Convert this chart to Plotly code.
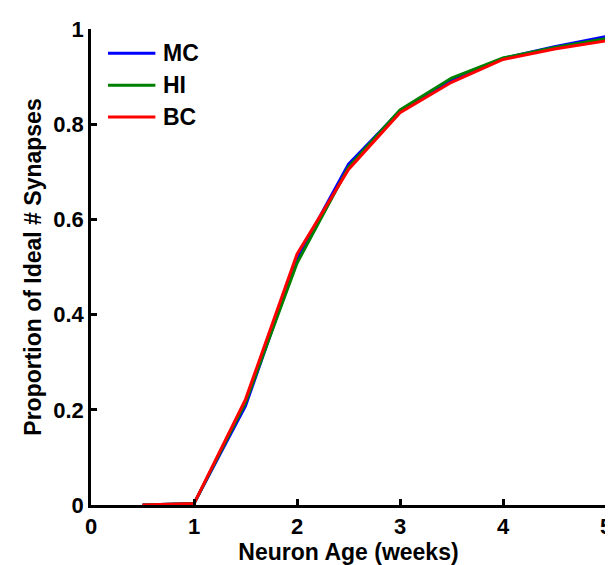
import plotly.graph_objects as go

weeks = [0.5, 1.0, 1.5, 2.0, 2.5, 3.0, 3.5, 4.0, 4.5, 5.0]
mc = [0.0, 0.003, 0.208, 0.518, 0.716, 0.828, 0.893, 0.938, 0.963, 0.984]
hi = [0.0, 0.003, 0.215, 0.508, 0.710, 0.830, 0.897, 0.939, 0.961, 0.980]
bc = [0.0, 0.003, 0.222, 0.527, 0.705, 0.824, 0.888, 0.936, 0.958, 0.975]

series_names = ["MC", "HI", "BC"]
series_values = [mc, hi, bc]
series_colors = ["#0000ff", "#008000", "#ff0000"]

x_ticks = [0, 1, 2, 3, 4, 5]
y_ticks = [0, 0.2, 0.4, 0.6, 0.8, 1]
y_tick_labels = ["0", "0.2", "0.4", "0.6", "0.8", "1"]

FAM = "Liberation Sans, Arial, sans-serif"
tick_font = dict(family=FAM, size=22, color="black", weight="bold")
title_font = dict(family=FAM, size=23, color="black", weight="bold")
legend_font = dict(family=FAM, size=23, color="black", weight="bold")

fig = go.Figure()
for name, vals, col in zip(series_names, series_values, series_colors):
    fig.add_trace(go.Scatter(x=weeks, y=vals, mode="lines", name=name,
                             line=dict(color=col, width=3)))

# legend drawn inside the axes (line samples + labels), matching the original layout
leg_x0, leg_x1, leg_text_x = 0.165, 0.625, 0.68
leg_y = [0.949, 0.882, 0.815]
for name, col, yy in zip(series_names, series_colors, leg_y):
    fig.add_shape(type="line", xref="x", yref="y", x0=leg_x0, x1=leg_x1, y0=yy, y1=yy,
                  line=dict(color=col, width=3))
    fig.add_annotation(xref="x", yref="y", x=leg_text_x, y=yy, text=name, showarrow=False,
                       xanchor="left", yanchor="middle", font=legend_font)

fig.update_layout(
    width=613, height=565,
    margin=dict(l=83, r=9, t=13, b=68),
    plot_bgcolor="white", paper_bgcolor="white",
    font=tick_font,
    showlegend=False,
)
fig.update_xaxes(range=[0, 5], tickvals=x_ticks, ticktext=[str(t) for t in x_ticks],
                 showgrid=False, zeroline=False, showline=True, linecolor="black", linewidth=2.5,
                 ticks="inside", ticklen=6, tickwidth=2.5, tickcolor="black", tickfont=tick_font,
                 title=dict(text="Neuron Age (weeks)", standoff=2, font=title_font))
fig.update_yaxes(range=[0, 1], tickvals=y_ticks, ticktext=y_tick_labels,
                 showgrid=False, zeroline=False, showline=True, linecolor="black", linewidth=2.5,
                 ticks="inside", ticklen=6, tickwidth=2.5, tickcolor="black", tickfont=tick_font,
                 title=dict(text="Proportion of Ideal # Synapses", standoff=6, font=title_font))

fig.write_html("out.html")
